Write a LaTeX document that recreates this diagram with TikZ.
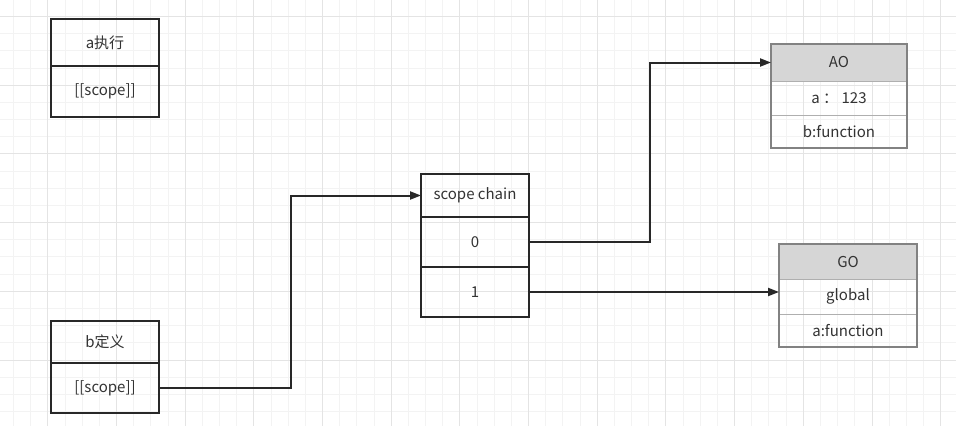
\documentclass[tikz,border=0pt]{standalone}
\usepackage{fontspec}
\newfontfamily\cjkfont{Noto Sans CJK SC}
\usepackage{tikz}
\usetikzlibrary{arrows.meta,positioning}
\usepackage{xcolor}
\definecolor{gridminor}{RGB}{243,243,243}
\definecolor{gridmajor}{RGB}{228,228,228}
\definecolor{linecolor}{RGB}{40,40,40}
\definecolor{headcolor}{RGB}{214,214,214}
\definecolor{objborder}{RGB}{130,130,130}
\definecolor{objline}{RGB}{175,175,175}
\definecolor{textcolor}{RGB}{51,51,51}

\begin{document}
\begin{tikzpicture}[
    x=1pt, y=-1pt,
    cell/.style={rectangle, draw=linecolor, line width=2pt, outer sep=0pt, inner sep=0pt,
        minimum width=108pt, font=\cjkfont\fontsize{15}{17}\selectfont, text=textcolor},
    objcell/.style={rectangle, draw=objline, line width=1pt, outer sep=0pt, inner sep=0pt,
        font=\cjkfont\fontsize{15}{17}\selectfont, text=textcolor},
    arrow/.style={-{Triangle[length=11pt,width=8pt]}, line width=2pt, draw=linecolor}
]
    % Background and grid
    \fill[white] (0,0) rectangle (956,426);
    \useasboundingbox (0,0) rectangle (956,426);
    \foreach \i in {0,...,55}
        \draw[gridminor, line width=1pt] ({13.5+\i*17.17},0) -- ({13.5+\i*17.17},426);
    \foreach \j in {0,...,25}
        \draw[gridminor, line width=1pt] (0,{-0.57+\j*17.17}) -- (956,{-0.57+\j*17.17});
    \foreach \i in {2,6,...,54}
        \draw[gridmajor, line width=1pt] ({13.5+\i*17.17},0) -- ({13.5+\i*17.17},426);
    \foreach \j in {1,5,...,25}
        \draw[gridmajor, line width=1pt] (0,{-0.57+\j*17.17}) -- (956,{-0.57+\j*17.17});

    % a executes
    \node[cell, anchor=north west, minimum height=47pt] (a1) at (51,19) {a执行};
    \node[cell, below=0pt of a1, minimum height=51pt] (a2) {[[scope]]};

    % b defined
    \node[cell, anchor=north west, minimum height=42pt] (b1) at (51,321) {b定义};
    \node[cell, below=0pt of b1, minimum height=50pt] (b2) {[[scope]]};

    % Scope chain
    \node[cell, anchor=north west, minimum height=43pt] (sc1) at (421,174) {scope chain};
    \node[cell, below=0pt of sc1, minimum height=50pt] (sc2) {0};
    \node[cell, below=0pt of sc2, minimum height=50pt] (sc3) {1};

    % AO
    \node[objcell, fill=headcolor, anchor=north west, minimum width=136pt, minimum height=37pt] (ao1) at (771,44) {AO};
    \node[objcell, below=0pt of ao1, minimum width=136pt, minimum height=34pt] (ao2) {a ： 123};
    \node[objcell, below=0pt of ao2, minimum width=136pt, minimum height=33pt] (ao3) {b:function};
    \draw[objborder, line width=2pt] (ao1.north west) rectangle (ao3.south east);

    % GO
    \node[objcell, fill=headcolor, anchor=north west, minimum width=138pt, minimum height=35pt] (go1) at (779,244) {GO};
    \node[objcell, below=0pt of go1, minimum width=138pt, minimum height=35pt] (go2) {global};
    \node[objcell, below=0pt of go2, minimum width=138pt, minimum height=33pt] (go3) {a:function};
    \draw[objborder, line width=2pt] (go1.north west) rectangle (go3.south east);

    % Links
    \draw[arrow] (b2.east) -- ++(131.5,0) |- (sc1.west);
    \draw[arrow] (sc2.east) -- ++(121,0) |- (ao1.west);
    \draw[arrow] (sc3.east) -- (sc3.east -| go2.west);
\end{tikzpicture}
\end{document}
